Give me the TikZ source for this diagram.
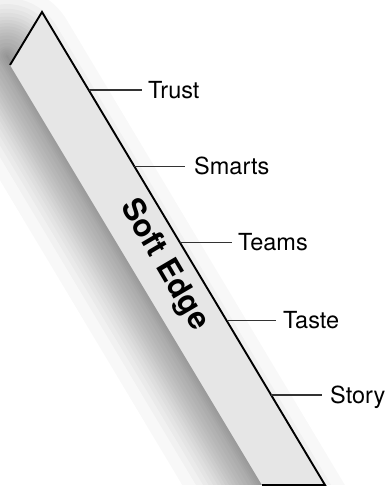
\documentclass[tikz,border=0pt]{standalone}
\usepackage{fontspec}
\setmainfont{TeX Gyre Heros}
\usetikzlibrary{calc}
\definecolor{stripfill}{HTML}{E6E6E6}
\definecolor{tickcol}{HTML}{333333}
\tikzset{
  edgeline/.style={line width=1.9pt, line join=miter, black},
  tickline/.style={line width=1.4pt, tickcol},
  tag/.style={anchor=base west, inner sep=0pt, font=\fontsize{23.5}{25}\selectfont},
  title/.style={font=\bfseries\fontsize{31}{34}\selectfont, rotate=-59.6, inner sep=0pt},
  haze/.style={draw=black, draw opacity=0.027, line cap=round},
}
\begin{document}
\begin{tikzpicture}[x=1pt, y=-1pt]
  \useasboundingbox (0,0) rectangle (389,487);
  % corners of the strip
  \coordinate (top) at (42,12);
  \coordinate (lc)  at (10,65);
  \coordinate (bl)  at (262,485);
  \coordinate (br)  at (325,485);
  % soft drop shadow: translucent strokes of growing width along a centre line
  % offset to the lower left; widths spaced to give a gaussian-like falloff
  \coordinate (s0) at (7,56);
  \coordinate (s1) at (312,566);
  \foreach \w in {1,3.6,7.6,11.6,15.6,19.6,26.6,34,41.2,47.2,53.4,59.4,65.8,72.2,78.8,86.4,94.4,103.8,116,139.6} {
    \draw[haze, line width=\w pt] (s0) -- (s1);
  }
  \fill[white] (0,485) rectangle (389,487);
  % the strip
  \fill[stripfill] (top) -- (lc) -- (bl) -- (br) -- cycle;
  \draw[edgeline] (lc) -- (top) -- (br) -- (bl);
  % title along the strip
  \node[title] (soft) at (164,265) {Soft Edge};
  % points on the right edge
  \coordinate (p1) at ($(top)!0.165!(br)$);
  \coordinate (p2) at ($(top)!0.326!(br)$);
  \coordinate (p3) at ($(top)!0.487!(br)$);
  \coordinate (p4) at ($(top)!0.652!(br)$);
  \coordinate (p5) at ($(top)!0.810!(br)$);
  % labels
  \node[tag] (trust)  at (148,98)  {Trust};
  \node[tag] (smarts) at (194,174) {Smarts};
  \node[tag] (teams)  at (238,250) {Teams};
  \node[tag] (taste)  at (283,328) {Taste};
  \node[tag] (story)  at (330,403) {Story};
  % connectors
  \draw[tickline] (p1) -- ($(p1 -| trust.west)+(-6,0)$);
  \draw[tickline] (p2) -- ($(p2 -| smarts.west)+(-9,0)$);
  \draw[tickline] (p3) -- ($(p3 -| teams.west)+(-6,0)$);
  \draw[tickline] (p4) -- ($(p4 -| taste.west)+(-7,0)$);
  \draw[tickline] (p5) -- ($(p5 -| story.west)+(-8,0)$);
\end{tikzpicture}
\end{document}
